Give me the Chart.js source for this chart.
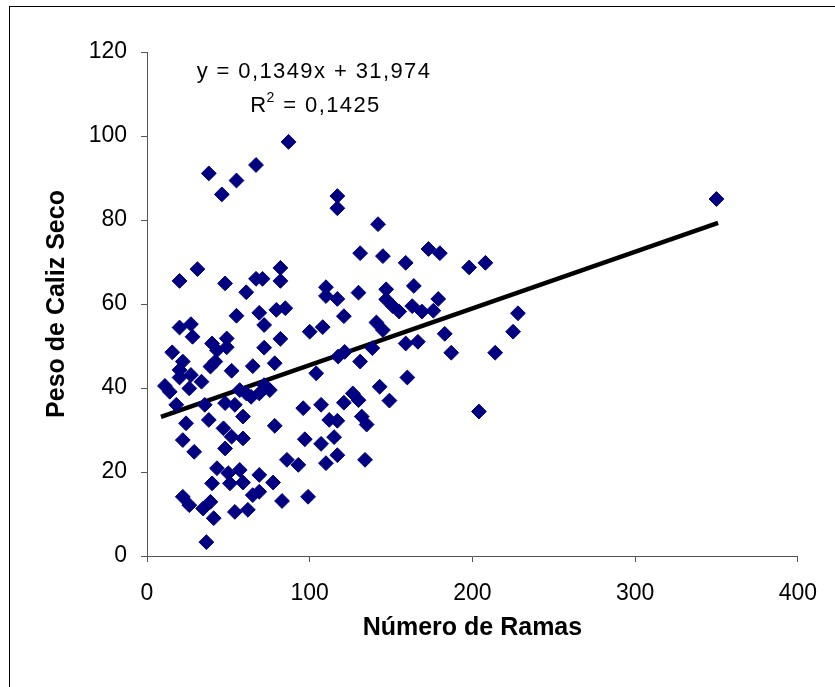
<!DOCTYPE html>
<html>
<head>
<meta charset="utf-8">
<script src="https://cdn.jsdelivr.net/npm/chart.js@4/dist/chart.umd.min.js"></script>
<style>
  html, body { margin: 0; padding: 0; background: #fff; }
  #wrap { width: 835px; height: 687px; }
</style>
</head>
<body>
<div id="wrap"><canvas id="chart" width="835" height="687"></canvas></div>
<script>
// data
var ramas = [87, 67, 38, 55, 46, 117, 117, 142, 350, 131, 145, 159, 173, 180, 198, 208,
  20, 31, 48, 61, 67, 71, 82, 82, 110, 110, 117, 130, 147, 147, 164,
  151, 155, 163, 169, 176, 179, 121, 228, 225, 55, 69, 72, 79.5, 85,
  20, 27, 28, 15.5, 40, 49, 43, 49, 72, 82, 100, 108, 141, 145, 183, 159, 166.5, 187, 214,
  138.5, 121.5, 117.5, 131, 104, 160, 143, 149,
  22, 20, 27, 20, 33.5, 26, 11, 14, 39, 42, 52, 65, 78.5,
  18, 35.5, 38, 24, 22, 29, 48, 54, 59, 64, 69, 75.5, 61, 57, 72,
  47, 52, 59, 48, 78.5, 96, 107, 97, 107, 86, 93, 110,
  121, 126.5, 130, 132, 135, 112, 117, 115, 117, 134, 204,
  43, 50, 57, 40, 51, 59, 69, 77.5,
  22, 26, 34.5, 39, 41, 54, 62, 65, 69, 83, 99, 36.5];
var peso = [98.6, 93.1, 91.1, 89.4, 86.1, 85.7, 82.8, 79.0, 85.0, 72.1, 71.4, 69.8, 73.1, 72.1, 68.7, 69.8,
  65.5, 68.3, 64.9, 62.8, 66.0, 66.0, 68.6, 65.5, 64.0, 61.9, 61.2, 62.7, 63.5, 61.1, 64.3,
  59.5, 58.2, 59.5, 58.2, 58.4, 61.2, 57.1, 57.8, 53.4, 57.2, 57.9, 55.0, 58.6, 59.0,
  54.4, 55.2, 52.2, 48.5, 50.6, 51.8, 49.0, 49.7, 49.6, 51.7, 53.4, 54.5, 55.6, 53.8, 52.9, 50.6, 51.0, 48.4, 48.4,
  49.5, 48.6, 47.5, 46.3, 43.5, 42.5, 40.3, 37.0,
  46.3, 44.3, 43.1, 42.5, 41.5, 39.9, 40.5, 39.1, 45.1, 46.3, 44.1, 45.2, 45.9,
  36.0, 36.0, 32.4, 31.6, 27.6, 24.8, 36.4, 36.0, 33.2, 37.9, 38.7, 39.5, 38.7, 39.5, 40.7,
  30.4, 28.4, 28.0, 25.6, 31.0, 35.2, 36.0, 27.8, 26.7, 22.9, 21.7, 22.1,
  36.5, 38.7, 37.1, 33.2, 31.3, 32.4, 32.2, 28.3, 24.0, 22.9, 34.4,
  20.9, 19.7, 20.5, 17.3, 17.3, 17.5, 19.3, 17.5,
  14.1, 12.1, 11.3, 12.9, 9.0, 10.5, 11.0, 14.5, 15.3, 13.1, 14.1, 3.3];

// trendline ends (y = 0,1349x + 31,974)
var trendX = [8.6, 351];
var trendY = [33.1, 79.3];
var eqText = 'y = 0,1349x + 31,974';
var r2Text = ' = 0,1425';

var points = [];
for (var i = 0; i < ramas.length; i++) {
  points.push({x: ramas[i], y: peso[i]});
}
var trend = [];
for (var j = 0; j < trendX.length; j++) {
  trend.push({x: trendX[j], y: trendY[j]});
}

var FONT = '"Liberation Sans", Arial, sans-serif';

var frame = {
  id: 'frame',
  beforeDraw: function(chart) {
    var ctx = chart.ctx;
    ctx.save();
    ctx.fillStyle = '#fff';
    ctx.fillRect(0, 0, chart.width, chart.height);
    ctx.strokeStyle = '#000';
    ctx.lineWidth = 1;
    ctx.strokeRect(9.5, 6.5, chart.width + 10, chart.height + 10);
    ctx.restore();
  },
  afterDraw: function(chart) {
    var ctx = chart.ctx;
    ctx.save();
    ctx.fillStyle = '#000';
    ctx.letterSpacing = '1.4px';
    ctx.font = '22px ' + FONT;
    ctx.textBaseline = 'alphabetic';
    ctx.textAlign = 'center';
    ctx.fillText(eqText, 314, 78);
    // R² line
    var wR = ctx.measureText('R').width;
    ctx.font = '14px ' + FONT;
    var w2 = ctx.measureText('2').width;
    ctx.font = '22px ' + FONT;
    var wRest = ctx.measureText(r2Text).width;
    var x0 = 316 - (wR + w2 + wRest) / 2;
    ctx.textAlign = 'left';
    ctx.fillText('R', x0, 112);
    ctx.font = '14px ' + FONT;
    ctx.fillText('2', x0 + wR - 1, 102);
    ctx.font = '22px ' + FONT;
    ctx.fillText(r2Text, x0 + wR + w2 - 1, 112);
    ctx.restore();
  }
};

new Chart(document.getElementById('chart'), {
  type: 'scatter',
  data: {
    datasets: [
      {
        label: 'Peso',
        data: points,
        pointStyle: 'rectRot',
        pointRadius: 7.4,
        pointHoverRadius: 7.4,
        backgroundColor: '#000080',
        borderColor: '#000080',
        borderWidth: 1
      },
      {
        label: 'Tendencia',
        type: 'line',
        data: trend,
        showLine: true,
        borderColor: '#000',
        borderWidth: 4.5,
        pointRadius: 0,
        fill: false
      }
    ]
  },
  plugins: [frame],
  options: {
    responsive: false,
    animation: false,
    events: [],
    layout: { padding: { left: 0, right: 35, top: 52, bottom: 0 } },
    plugins: { legend: { display: false }, tooltip: { enabled: false } },
    scales: {
      x: {
        type: 'linear',
        min: 0, max: 400,
        ticks: { stepSize: 100, color: '#000', padding: 18,
          font: { family: FONT, size: 23 } },
        grid: { drawOnChartArea: false, drawTicks: true, tickLength: 6, color: '#555' },
        border: { display: true, color: '#555', width: 1 },
        title: { display: true, text: 'Número de Ramas', color: '#000',
          font: { family: FONT, size: 25, weight: 'bold' },
          padding: { top: 0, bottom: 44 } },
        afterFit: function(scale) { scale.height = 131; }
      },
      y: {
        type: 'linear',
        min: 0, max: 120,
        ticks: { stepSize: 20, color: '#000', padding: 14,
          font: { family: FONT, size: 23 } },
        grid: { drawOnChartArea: false, drawTicks: true, tickLength: 6, color: '#555' },
        border: { display: true, color: '#555', width: 1 },
        title: { display: true, text: 'Peso de Caliz Seco', color: '#000',
          font: { family: FONT, size: 25, weight: 'bold' },
          padding: { top: 42.5, bottom: 0 } },
        afterFit: function(scale) { scale.width = 147; }
      }
    }
  }
});
</script>
</body>
</html>
